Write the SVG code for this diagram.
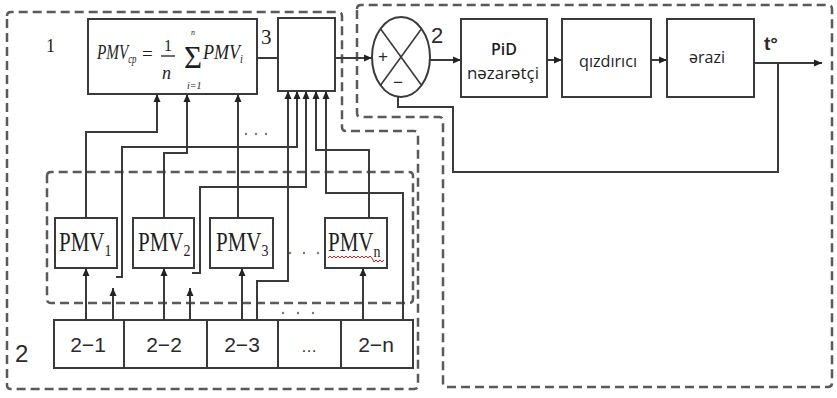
<svg xmlns="http://www.w3.org/2000/svg" width="837" height="398" viewBox="0 0 837 398">
<style>
.reg{fill:none;stroke:#5a5a5a;stroke-width:2.5;stroke-dasharray:9,5;stroke-linejoin:round}
.box{fill:#fff;stroke:#3a3a3a;stroke-width:2}
.ln{fill:none;stroke:#3a3a3a;stroke-width:2}
.ar{marker-end:url(#ah)}
.serif{font-family:"Liberation Serif","Times New Roman",serif;fill:#1e1e1e}
.sans{font-family:"Open Sans","Liberation Sans",sans-serif;fill:#1e1e1e}
.lab{font-family:"Liberation Sans",Arial,sans-serif;fill:#2a2a2a}
.pmv{font-family:"Liberation Serif","Times New Roman",serif;fill:#1e1e1e;font-size:21px}
.sub{font-size:14px}
.dots{fill:#6a7a90}
</style>
<defs>
<marker id="ah" markerUnits="userSpaceOnUse" markerWidth="8" markerHeight="8" refX="8" refY="4" orient="auto">
<path d="M0,0.5 L8,4 L0,7.5 z" fill="#222"/>
</marker>
</defs>

<g id="regions">
<path class="reg" d="M7,16 Q7,12 11,12 H338 Q342,12 342,16 V127 Q342,131 346,131 H414 Q418,131 418,135 V385 Q418,389 414,389 H11 Q7,389 7,385 Z"/>
<path class="reg" d="M357,9 Q357,5 361,5 H828 Q832,5 832,9 V383 Q832,387 828,387 H447 Q443,387 443,383 V121 Q443,117 439,117 H361 Q357,117 357,113 Z"/>
<path class="reg" d="M47,176 Q47,172 51,172 H409 Q413,172 413,176 V299 Q413,303 409,303 H51 Q47,303 47,299 Z"/>
</g>

<g id="connectors">
<path class="ln" d="M257,58 H278"/>
<path class="ln ar" d="M335,58 H372"/>
<path class="ln ar" d="M430,60 H461"/>
<path class="ln ar" d="M547,60 H562"/>
<path class="ln ar" d="M651,60 H667"/>
<path class="ln ar" d="M754,63 H822"/>
<path class="ln" d="M778,63 V172 H453 V107 H398 V97"/>
<path class="ln ar" d="M86,218 V132 H157 V94"/>
<path class="ln ar" d="M164,218 V153 H187 V94"/>
<path class="ln ar" d="M238,218 V94"/>
<path class="ln ar" d="M86,320 V268"/>
<path class="ln ar" d="M164,320 V268"/>
<path class="ln ar" d="M242,320 V268"/>
<path class="ln ar" d="M363,320 V268"/>
<path class="ln ar" d="M113,345 V288"/>
<path class="ln ar" d="M190,320 V288"/>
<path class="ln ar" d="M116,277 H122 V147 H297 V91"/>
<path class="ln ar" d="M192,273 H200 V187 H306 V91"/>
<path class="ln ar" d="M257,320 V281 H288 V91"/>
<path class="ln ar" d="M369,218 V150 H316 V91"/>
<path class="ln ar" d="M403,320 V193 H326 V91"/>
</g>

<g id="formula">
<rect class="box" x="88" y="19" width="169" height="75"/>
<text class="serif" transform="translate(97,59) scale(0.8,1.1)" font-size="19" font-style="italic">PMV<tspan font-size="11" dy="4">cp</tspan></text>
<text class="serif" x="142" y="60" font-size="19">=</text>
<text class="serif" x="164" y="51" font-size="16">1</text>
<line x1="161" y1="56" x2="175" y2="56" stroke="#1e1e1e" stroke-width="1.3"/>
<text class="serif" x="162" y="79" font-size="18" font-style="italic">n</text>
<text class="serif" x="184" y="68" font-size="31">Σ</text>
<text class="serif" x="191" y="35" font-size="8" font-style="italic">n</text>
<text class="serif" x="187" y="89" font-size="10" font-style="italic">i=1</text>
<text class="serif" transform="translate(203,59) scale(0.95,1.1)" font-size="19" font-style="italic">PMV<tspan font-size="11" dy="4">i</tspan></text>
</g>

<g id="label-1"><text class="serif" x="46" y="52" font-size="18">1</text></g>
<g id="label-3"><text class="serif" x="261" y="44" font-size="21">3</text></g>

<g id="merger">
<rect class="box" x="278" y="18" width="57" height="73"/>
</g>

<g id="comparator">
<ellipse cx="401" cy="57" rx="29" ry="40" fill="#fff" stroke="#3a3a3a" stroke-width="2"/>
<line x1="380.5" y1="28.7" x2="421.5" y2="85.3" stroke="#3a3a3a" stroke-width="1.6"/>
<line x1="421.5" y1="28.7" x2="380.5" y2="85.3" stroke="#3a3a3a" stroke-width="1.6"/>
<text class="lab" x="383" y="62" font-size="17" text-anchor="middle" fill="#8a6030">+</text>
<text class="lab" x="398" y="88" font-size="17" text-anchor="middle" fill="#8a6030">−</text>
<text class="lab" x="431" y="43" font-size="22">2</text>
</g>

<g id="pid">
<rect class="box" x="461" y="19" width="86" height="78"/>
<text class="sans" x="504" y="55" font-size="16" font-weight="600" text-anchor="middle">PiD</text>
<text class="sans" x="503" y="79" font-size="16" text-anchor="middle" textLength="72" lengthAdjust="spacingAndGlyphs">nəzarətçi</text>
</g>

<g id="qizdirici">
<rect class="box" x="562" y="19" width="89" height="78"/>
<text class="sans" x="608" y="67" font-size="16" text-anchor="middle" textLength="58" lengthAdjust="spacingAndGlyphs">qızdırıcı</text>
</g>

<g id="erazi">
<rect class="box" x="667" y="19" width="87" height="78"/>
<text class="sans" x="707" y="63" font-size="16" text-anchor="middle">ərazi</text>
</g>

<g id="label-t"><text class="lab" x="764" y="50" font-size="19" font-weight="bold">t°</text></g>

<g id="pmv1">
<rect class="box" x="55" y="218" width="62" height="50"/>
<text class="pmv" transform="translate(59,251) scale(1,1.25)">PMV<tspan class="sub" dy="4">1</tspan></text>
</g>
<g id="pmv2">
<rect class="box" x="133" y="218" width="61" height="50"/>
<text class="pmv" transform="translate(138,251) scale(1,1.25)">PMV<tspan class="sub" dy="4">2</tspan></text>
</g>
<g id="pmv3">
<rect class="box" x="210" y="218" width="63" height="50"/>
<text class="pmv" transform="translate(216,251) scale(1,1.25)">PMV<tspan class="sub" dy="4">3</tspan></text>
</g>
<g id="pmvn">
<rect class="box" x="325" y="218" width="62" height="50"/>
<text class="pmv" transform="translate(328,251) scale(1,1.25)">PMV<tspan class="sub" dy="5">n</tspan></text>
<polyline points="328,258 330,256 332,258 334,256 336,258 338,256 340,258 342,256 344,258 346,256 348,258 350,256 352,258 354,256 356,258 358,256 360,258 362,256 364,258 366,256 368,258 370,256 372,258 374,262 376,260 378,262 380,260 382,262 384,260" fill="none" stroke="#e02020" stroke-width="1"/>
</g>

<g id="sources">
<rect class="box" x="54" y="320" width="359" height="48"/>
<line class="ln" x1="124" y1="320" x2="124" y2="368"/>
<line class="ln" x1="207" y1="320" x2="207" y2="368"/>
<line class="ln" x1="278" y1="320" x2="278" y2="368"/>
<line class="ln" x1="341" y1="320" x2="341" y2="368"/>
<text class="lab" x="88" y="352" font-size="21" text-anchor="middle">2−1</text>
<text class="lab" x="164" y="352" font-size="21" text-anchor="middle">2−2</text>
<text class="lab" x="242" y="352" font-size="21" text-anchor="middle">2−3</text>
<text class="lab" x="309" y="352" font-size="16" text-anchor="middle">…</text>
<text class="lab" x="376" y="352" font-size="21" text-anchor="middle">2−n</text>
</g>
<g id="label-2-left"><text class="lab" x="15" y="362" font-size="24">2</text></g>

<g id="ellipses" class="dots">
<circle cx="246" cy="134" r="1.2"/><circle cx="256" cy="134" r="1.2"/><circle cx="266" cy="134" r="1.2"/>
<circle cx="290" cy="253" r="1.2"/><circle cx="304" cy="253" r="1.2"/><circle cx="318" cy="253" r="1.2"/>
<circle cx="283" cy="313" r="1.2"/><circle cx="298" cy="313" r="1.2"/><circle cx="313" cy="313" r="1.2"/>
</g>
</svg>
